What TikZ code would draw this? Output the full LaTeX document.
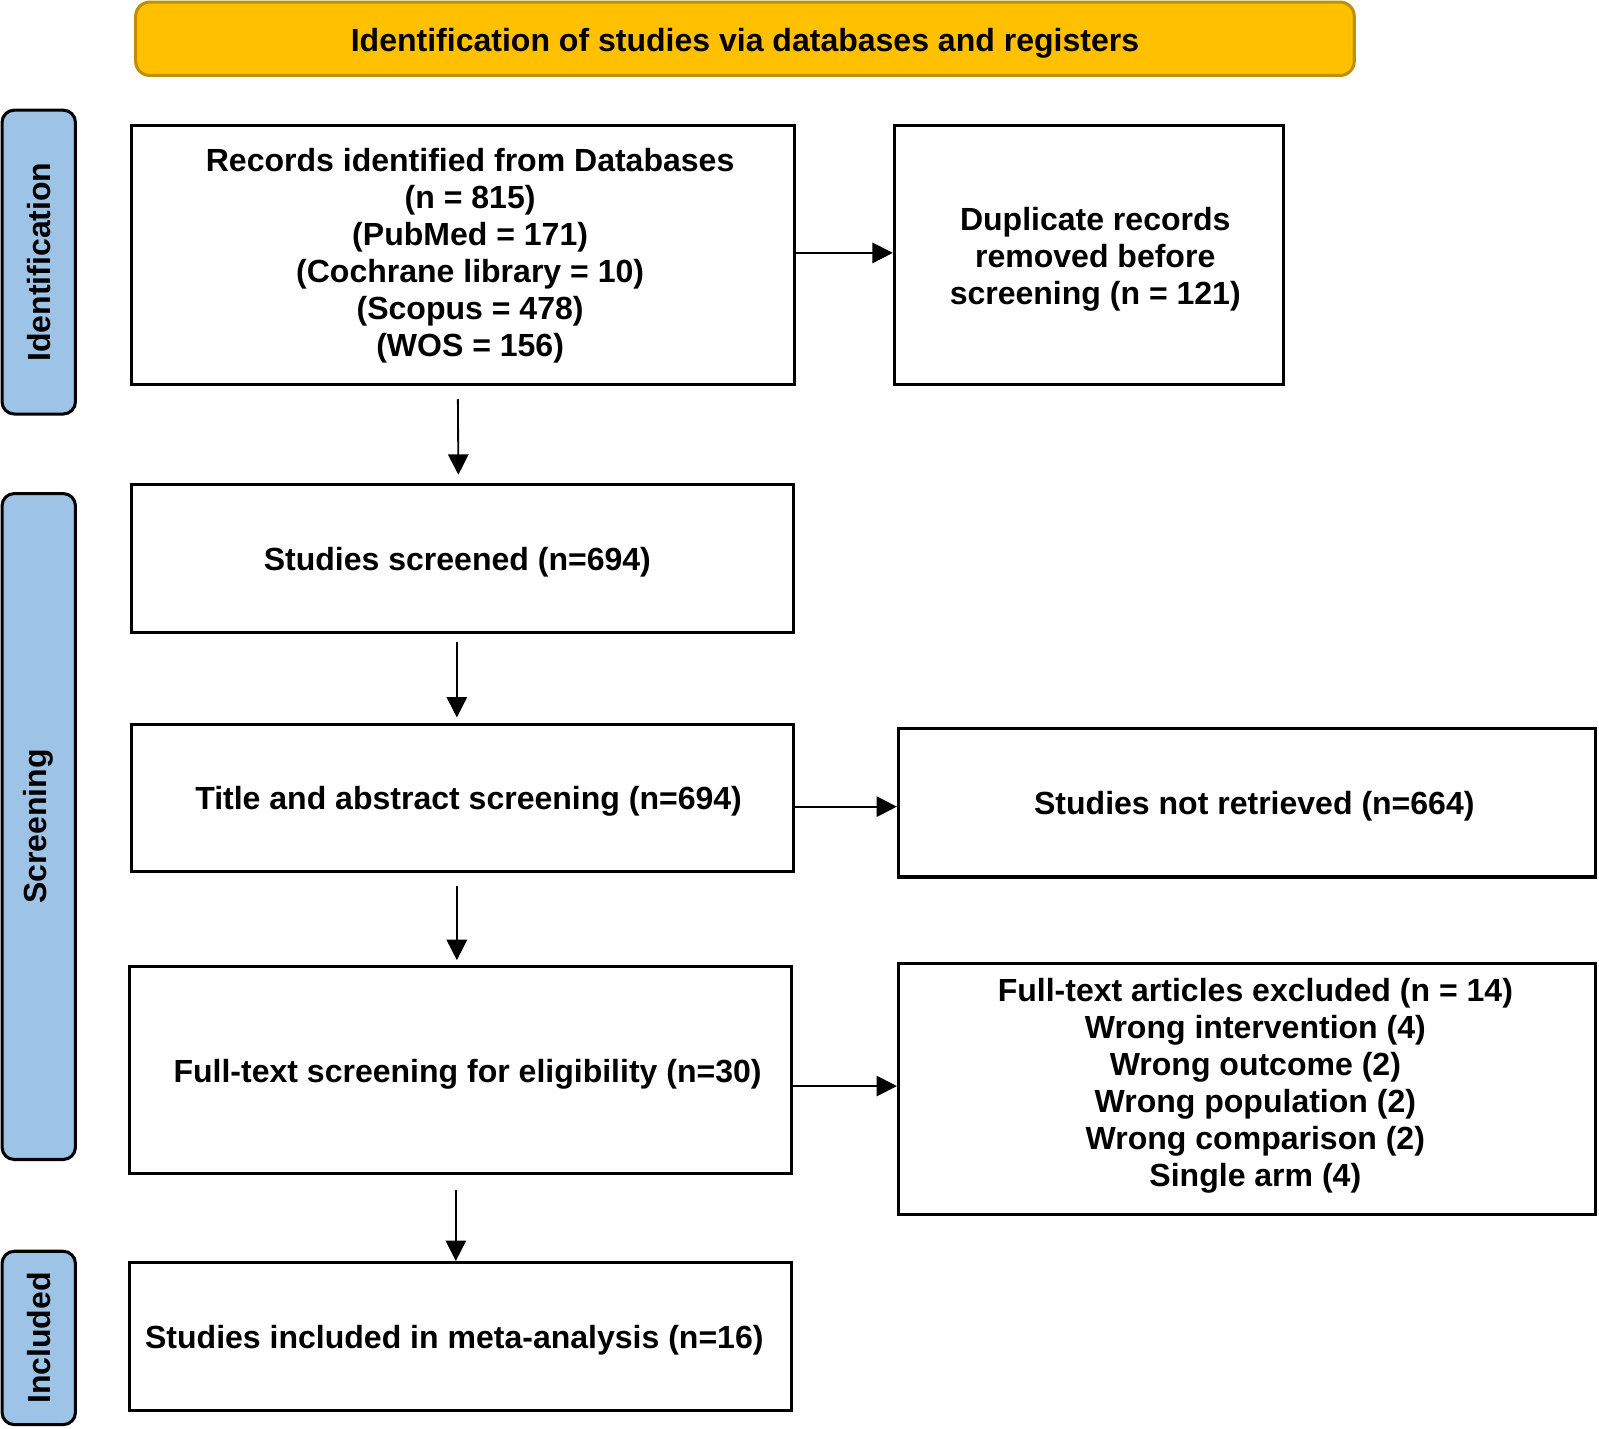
\documentclass[tikz,border=0pt]{standalone}
\usepackage{fontspec}
\setmainfont{Liberation Sans}
\usetikzlibrary{arrows.meta}
\definecolor{hdrfill}{HTML}{FFC000}
\definecolor{hdrline}{HTML}{BF9000}
\definecolor{sidefill}{HTML}{9DC3E6}
\begin{document}
\begin{tikzpicture}[x=1pt,y=1pt,
  txt/.style={font=\fontsize{31.4}{36.2}\selectfont\bfseries, align=center},
  box/.style={draw=black, line width=3pt, inner sep=0pt},
  side/.style={txt, draw=black, fill=sidefill, line width=3pt, rounded corners=12pt, rotate=90, inner sep=0pt, minimum height=72pt},
  hdr/.style={draw=hdrline, fill=hdrfill, line width=3pt, rounded corners=14pt, inner sep=0pt},
  arr/.style={line width=1.8pt, -{Triangle[length=20pt,width=20pt]}}]
\useasboundingbox (0,0) rectangle (1568,-1400.4);
\node[hdr, minimum width=1195pt, minimum height=72pt, label={[txt,yshift=-4pt]center:Identification of studies via databases and registers}] (hd) at (730.5,-38) {};
\node[side, minimum width=298pt] (sid) at (38,-257) {Identification};
\node[side, minimum width=653pt] (ssc) at (38,-810.5) {Screening};
\node[side, minimum width=170pt] (sin) at (38,-1312) {Included};
\node[box, minimum width=650pt, minimum height=254pt, label={[txt,xshift=7pt,yshift=-1pt]center:{Records identified from Databases\\(n = 815)\\(PubMed = 171)\\(Cochrane library = 10)\\(Scopus = 478)\\(WOS = 156)}}] (rec) at (454,-250) {};
\node[box, minimum width=382pt, minimum height=254pt, label={[txt,xshift=6pt,yshift=-4pt]center:{Duplicate records\\removed before\\screening (n = 121)}}] (dup) at (1068,-250) {};
\node[box, minimum width=649pt, minimum height=145pt, label={[txt,xshift=-5pt,yshift=-4pt]center:{Studies screened (n=694)}}] (scr) at (453.5,-547.5) {};
\node[box, minimum width=649pt, minimum height=145pt, label={[txt,xshift=6pt,yshift=-3pt]center:{Title and abstract screening (n=694)}}] (tit) at (453.5,-782.5) {};
\node[box, minimum width=684pt, minimum height=146pt, label={[txt,xshift=7pt,yshift=-4pt]center:{Studies not retrieved (n=664)}}] (nre) at (1223,-787) {};
\node[box, minimum width=649pt, minimum height=203pt, label={[txt,xshift=7pt,yshift=-4pt]center:{Full-text screening for eligibility (n=30)}}] (ful) at (451.5,-1049.5) {};
\node[box, minimum width=684pt, minimum height=246pt, label={[txt,xshift=8pt,yshift=3.5pt]center:{Full-text articles excluded (n = 14)\\Wrong intervention (4)\\Wrong outcome (2)\\Wrong population (2)\\Wrong comparison (2)\\Single arm (4)}}] (exc) at (1223,-1068) {};
\node[box, minimum width=649pt, minimum height=145pt, label={[txt,xshift=-6pt,yshift=-4pt]center:{Studies included in meta-analysis (n=16)}}] (inc) at (451.5,-1310.5) {};
\draw[arr] (rec.east |- 0,-248) -- (dup.west |- 0,-248);
\draw[arr] (tit.east |- 0,-791) -- (nre.west |- 0,-791);
\draw[arr] (ful.east |- 0,-1065) -- (exc.west |- 0,-1065);
\draw[arr] ([xshift=-5pt,yshift=-13pt]rec.south) -- ([xshift=-4pt,yshift=8pt]scr.north);
\draw[arr] ([xshift=-5.5pt,yshift=-8pt]scr.south) -- ([xshift=-5.5pt,yshift=5pt]tit.north);
\draw[arr] ([xshift=-5.5pt,yshift=-12pt]tit.south) -- ([xshift=-3.5pt,yshift=5pt]ful.north);
\draw[arr] ([xshift=-4.5pt,yshift=-14pt]ful.south) -- ([xshift=-4.5pt]inc.north);
\end{tikzpicture}
\end{document}
